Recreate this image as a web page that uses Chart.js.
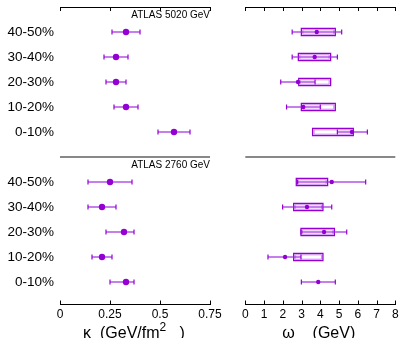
<!DOCTYPE html>
<html><head><meta charset="utf-8">
<script src="https://cdn.jsdelivr.net/npm/chart.js@4"></script>
<style>
html,body{margin:0;padding:0;background:#fff;}
#wrap{position:relative;width:401px;height:338px;}
canvas{position:absolute;left:0;top:0;}
</style></head><body>
<div id="wrap"><canvas id="cL" width="401" height="338"></canvas><canvas id="cR" width="401" height="338"></canvas></div>
<script>
// ---- data ----
const categories = ['0-10%','10-20%','20-30%','30-40%','40-50%'];
const panelLabels = ['ATLAS 5020 GeV','ATLAS 2760 GeV'];
const kappaTicks = [0,0.25,0.5,0.75];
const kappaTickLabels = ['0','0.25','0.5','0.75'];
const omegaTicks = [0,1,2,3,4,5,6,7,8];
// axis titles: [main, symbol-gap, unit, superscript, tail]
const kappaTitle = ['κ', '  ', '(GeV/fm', '2', '   )'];
const omegaTitle = ['ω', '    ', '(GeV)', '', ''];

// kappa (GeV/fm^2), ATLAS 5020 GeV
const kappa5020 = [0.57, 0.33, 0.28, 0.28, 0.33];
const kappa5020Lo = [0.49, 0.27, 0.23, 0.22, 0.26];
const kappa5020Hi = [0.65, 0.39, 0.33, 0.34, 0.40];
// kappa, ATLAS 2760 GeV
const kappa2760 = [0.33, 0.21, 0.32, 0.21, 0.25];
const kappa2760Lo = [0.25, 0.16, 0.23, 0.14, 0.14];
const kappa2760Hi = [0.37, 0.26, 0.37, 0.28, 0.36];

// omega (GeV), ATLAS 5020 GeV
const omega5020 = [5.69, 3.09, 2.81, 3.70, 3.81];
const omega5020Lo = [4.91, 2.20, 1.89, 2.50, 2.50];
const omega5020Hi = [6.51, 4.00, 3.72, 4.91, 5.14];
const omega5020BoxLo = [3.59, 2.99, 2.85, 2.83, 2.99];
const omega5020BoxHi = [5.76, 4.80, 4.55, 4.55, 4.80];
// omega, ATLAS 2760 GeV
const omega2760 = [3.89, 2.12, 4.20, 3.29, 4.61];
const omega2760Lo = [2.99, 1.21, 2.97, 1.99, 2.79];
const omega2760Hi = [4.80, 2.97, 5.41, 4.61, 6.42];
const omega2760BoxLo = [null, 2.58, 2.97, 2.58, 2.72];
const omega2760BoxHi = [null, 4.14, 4.75, 4.14, 4.39];

// ---- helpers ----
const FONT = "'Liberation Sans', Arial, Helvetica, sans-serif";
const PURPLE = '#9400d3';
const LIGHT = 'rgba(160,40,220,0.6)';
// row position: panel 0 (top) rows 1..5, panel 1 (bottom) rows 7..11
const rowPos = (panel, i) => panel * 6 + 5 - i;
const rowTicks = [];
[0,1].forEach(p => categories.forEach((c,i) => rowTicks.push(rowPos(p,i))));
const labelFor = v => { const p = v > 6 ? 1 : 0; const i = p*6 + 5 - v; return categories[Math.round(i)]; };

function pts(panel, vals) { return vals.map((v,i) => ({x:v, y:rowPos(panel,i)})); }
function errs(panel, lo, hi) { return lo.map((l,i) => ({lo:l, hi:hi[i], y:rowPos(panel,i)})); }
function boxes(panel, lo, hi) { return lo.map((l,i) => ({lo:l, hi:hi[i], y:rowPos(panel,i)})).filter(b => b.lo !== null); }

const decor = {
  id: 'decor',
  beforeDatasetsDraw(chart, args, o) {
    const ctx = chart.ctx, xs = chart.scales.x, ys = chart.scales.y;
    ctx.save();
    (o.boxes || []).forEach(b => {
      const x1 = xs.getPixelForValue(b.lo), x2 = xs.getPixelForValue(b.hi), y = ys.getPixelForValue(b.y);
      ctx.strokeStyle = 'rgba(180,90,230,0.7)'; ctx.lineWidth = 1;
      ctx.strokeRect(x1+1.5, y-2.2, x2-x1-3, 4.4);
      ctx.strokeStyle = PURPLE; ctx.lineWidth = 1.3;
      ctx.strokeRect(x1, y-3.6, x2-x1, 7.2);
    });
    (o.errs || []).forEach(e => {
      const x1 = xs.getPixelForValue(e.lo), x2 = xs.getPixelForValue(e.hi), y = ys.getPixelForValue(e.y);
      ctx.strokeStyle = LIGHT; ctx.lineWidth = 2;
      ctx.beginPath(); ctx.moveTo(x1, y); ctx.lineTo(x2, y); ctx.stroke();
      ctx.strokeStyle = PURPLE; ctx.lineWidth = 1.2;
      ctx.beginPath(); ctx.moveTo(x1, y-2.6); ctx.lineTo(x1, y+2.6); ctx.moveTo(x2, y-2.6); ctx.lineTo(x2, y+2.6); ctx.stroke();
    });
    ctx.restore();
  },
  afterDraw(chart, args, o) {
    const ctx = chart.ctx, xs = chart.scales.x, ys = chart.scales.y, a = chart.chartArea;
    ctx.save();
    // top axis
    ctx.strokeStyle = '#000'; ctx.lineWidth = 1;
    ctx.beginPath(); ctx.moveTo(a.left, a.top+0.5); ctx.lineTo(a.right, a.top+0.5); ctx.stroke();
    ctx.beginPath();
    o.ticks.forEach(t => {
      const x = Math.round(xs.getPixelForValue(t)) + 0.5;
      ctx.moveTo(x, a.top); ctx.lineTo(x, a.top+4);
      ctx.moveTo(x, a.bottom); ctx.lineTo(x, a.bottom-4);
    });
    ctx.stroke();
    // divider between panels
    const yd = ys.getPixelForValue(6);
    ctx.strokeStyle = '#888'; ctx.lineWidth = 2;
    ctx.beginPath(); ctx.moveTo(a.left, yd); ctx.lineTo(a.right, yd); ctx.stroke();
    ctx.fillStyle = '#000';
    if (o.showLabels) {
      ctx.font = '10px ' + FONT; ctx.textAlign = 'right'; ctx.textBaseline = 'middle';
      ctx.fillText(panelLabels[0], a.right, ys.getPixelForValue(0.32));
      ctx.fillText(panelLabels[1], a.right, ys.getPixelForValue(6.32));
    }
    // axis title with superscript
    const t = o.title;
    ctx.textAlign = 'left'; ctx.textBaseline = 'alphabetic';
    const big = '16px ' + FONT, small = '12px ' + FONT;
    ctx.font = big;
    const w0 = ctx.measureText(t[0] + t[1] + t[2]).width;
    const w2 = ctx.measureText(t[4]).width;
    ctx.font = small;
    const w1 = ctx.measureText(t[3]).width;
    let x = (a.left + a.right) / 2 - (w0 + w1 + w2) / 2 + o.titleShift;
    const base = 337.5;
    ctx.font = big; ctx.fillText(t[0] + t[1] + t[2], x, base); x += w0;
    ctx.font = small; ctx.fillText(t[3], x, base - 7); x += w1;
    ctx.font = big; ctx.fillText(t[4], x, base);
    ctx.restore();
  }
};

function makeChart(id, isLeft) {
  const ds = isLeft
    ? [{data: pts(0, kappa5020)}, {data: pts(1, kappa2760)}]
    : [{data: pts(0, omega5020)}, {data: pts(1, omega2760)}];
  ds.forEach(d => Object.assign(d, {backgroundColor: PURPLE, borderColor: PURPLE, pointRadius: isLeft ? 3.2 : 2.2, borderWidth: 0}));
  const tickVals = isLeft ? kappaTicks : omegaTicks;
  return new Chart(document.getElementById(id), {
    type: 'scatter',
    data: {datasets: ds},
    plugins: [decor],
    options: {
      responsive: false, animation: false,
      layout: {padding: isLeft ? {left:0, right:191, top:7, bottom:0} : {left:245.3, right:5.7, top:7, bottom:0}},
      plugins: {
        legend: {display:false}, tooltip: {enabled:false},
        decor: {
          ticks: tickVals, showLabels: isLeft,
          title: isLeft ? kappaTitle : omegaTitle, titleShift: isLeft ? -1 : -1.5,
          errs: isLeft ? errs(0, kappa5020Lo, kappa5020Hi).concat(errs(1, kappa2760Lo, kappa2760Hi))
                       : errs(0, omega5020Lo, omega5020Hi).concat(errs(1, omega2760Lo, omega2760Hi)),
          boxes: isLeft ? [] : boxes(0, omega5020BoxLo, omega5020BoxHi).concat(boxes(1, omega2760BoxLo, omega2760BoxHi))
        }
      },
      scales: {
        x: {
          type: 'linear', min: tickVals[0], max: tickVals[tickVals.length-1],
          afterBuildTicks: s => { s.ticks = tickVals.map(v => ({value: v})); },
          ticks: {
            autoSkip: false, maxRotation: 0, color: '#000', padding: 3,
            font: {size: 12, family: FONT},
            callback: (v) => isLeft ? kappaTickLabels[kappaTicks.indexOf(v)] : String(v)
          },
          grid: {display: false, drawTicks: false},
          border: {display: true, color: '#000', width: 1},
          title: {display: false},
          afterFit: s => { s.height = 33.5; s.paddingLeft = 0; s.paddingRight = 0; }
        },
        y: {
          type: 'linear', min: 0, max: 11.9, reverse: true, display: isLeft,
          afterBuildTicks: s => { s.ticks = rowTicks.map(v => ({value: v})); },
          ticks: {autoSkip: false, color: '#000', padding: 6, font: {size: 13.5, family: FONT}, callback: v => labelFor(v)},
          grid: {display: false, drawTicks: false},
          border: {display: false},
          afterFit: s => { if (isLeft) s.width = 60; else s.width = 0; s.paddingTop = 0; s.paddingBottom = 0; }
        }
      }
    }
  });
}
makeChart('cL', true);
makeChart('cR', false);
</script>
</body></html>
